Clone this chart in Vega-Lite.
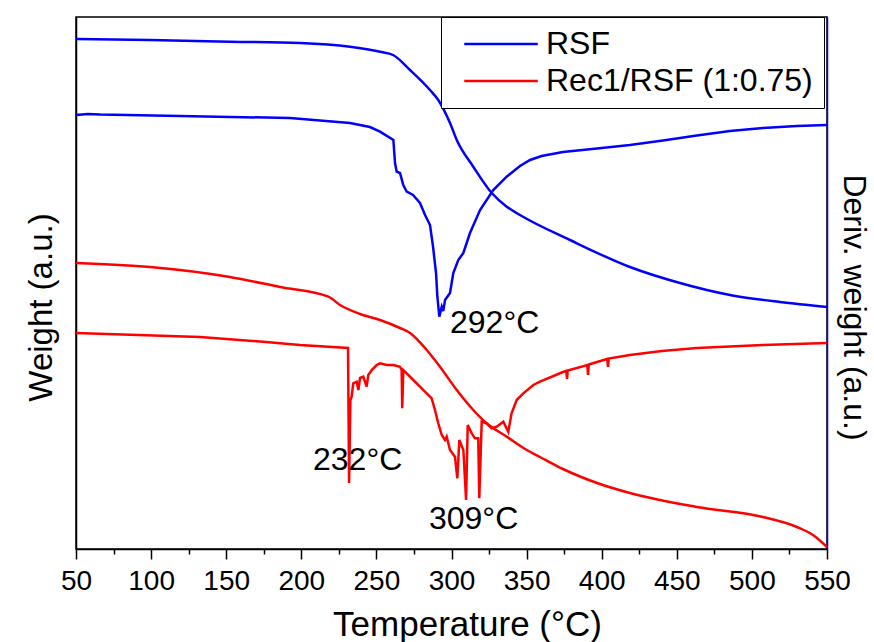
{
  "$schema": "https://vega.github.io/schema/vega-lite/v6.json",
  "width": 751,
  "height": 532,
  "autosize": {"type": "none"},
  "padding": {"left": 76, "top": 17, "right": 47, "bottom": 93},
  "background": "white",
  "config": {"view": {"stroke": "black", "strokeWidth": 1.5}, "font": "Liberation Sans"},
  "resolve": {"axis": {"x": "independent", "y": "independent"}},
  "datasets": {
    "tg": [
      {"sample": "RSF", "curve": "TG", "T": 50, "v": 510},
      {"sample": "RSF", "curve": "TG", "T": 99.3, "v": 509},
      {"sample": "RSF", "curve": "TG", "T": 152.5, "v": 507.3},
      {"sample": "RSF", "curve": "TG", "T": 199.1, "v": 506},
      {"sample": "RSF", "curve": "TG", "T": 232.4, "v": 502.3},
      {"sample": "RSF", "curve": "TG", "T": 252.4, "v": 497.3},
      {"sample": "RSF", "curve": "TG", "T": 261.1, "v": 494},
      {"sample": "RSF", "curve": "TG", "T": 272.4, "v": 479},
      {"sample": "RSF", "curve": "TG", "T": 285.7, "v": 459},
      {"sample": "RSF", "curve": "TG", "T": 291.2, "v": 449},
      {"sample": "RSF", "curve": "TG", "T": 299, "v": 426},
      {"sample": "RSF", "curve": "TG", "T": 303.5, "v": 409},
      {"sample": "RSF", "curve": "TG", "T": 314.5, "v": 382.3},
      {"sample": "RSF", "curve": "TG", "T": 326.8, "v": 356},
      {"sample": "RSF", "curve": "TG", "T": 336.8, "v": 342.3},
      {"sample": "RSF", "curve": "TG", "T": 345.6, "v": 334},
      {"sample": "RSF", "curve": "TG", "T": 378.9, "v": 309},
      {"sample": "RSF", "curve": "TG", "T": 418.8, "v": 282},
      {"sample": "RSF", "curve": "TG", "T": 452.1, "v": 266},
      {"sample": "RSF", "curve": "TG", "T": 485.4, "v": 254},
      {"sample": "RSF", "curve": "TG", "T": 518.7, "v": 247},
      {"sample": "RSF", "curve": "TG", "T": 550, "v": 242},
      {"sample": "Rec1/RSF (1:0.75)", "curve": "TG", "T": 50, "v": 286},
      {"sample": "Rec1/RSF (1:0.75)", "curve": "TG", "T": 99.3, "v": 282},
      {"sample": "Rec1/RSF (1:0.75)", "curve": "TG", "T": 152.5, "v": 272},
      {"sample": "Rec1/RSF (1:0.75)", "curve": "TG", "T": 185.8, "v": 262},
      {"sample": "Rec1/RSF (1:0.75)", "curve": "TG", "T": 218, "v": 252.3},
      {"sample": "Rec1/RSF (1:0.75)", "curve": "TG", "T": 225.8, "v": 244},
      {"sample": "Rec1/RSF (1:0.75)", "curve": "TG", "T": 239.1, "v": 235},
      {"sample": "Rec1/RSF (1:0.75)", "curve": "TG", "T": 252.4, "v": 229},
      {"sample": "Rec1/RSF (1:0.75)", "curve": "TG", "T": 265.7, "v": 221},
      {"sample": "Rec1/RSF (1:0.75)", "curve": "TG", "T": 272.4, "v": 216},
      {"sample": "Rec1/RSF (1:0.75)", "curve": "TG", "T": 283.5, "v": 199},
      {"sample": "Rec1/RSF (1:0.75)", "curve": "TG", "T": 292.3, "v": 182.3},
      {"sample": "Rec1/RSF (1:0.75)", "curve": "TG", "T": 303.5, "v": 159},
      {"sample": "Rec1/RSF (1:0.75)", "curve": "TG", "T": 314.5, "v": 139},
      {"sample": "Rec1/RSF (1:0.75)", "curve": "TG", "T": 323.4, "v": 125.7},
      {"sample": "Rec1/RSF (1:0.75)", "curve": "TG", "T": 336.8, "v": 112.3},
      {"sample": "Rec1/RSF (1:0.75)", "curve": "TG", "T": 350.1, "v": 99},
      {"sample": "Rec1/RSF (1:0.75)", "curve": "TG", "T": 358.9, "v": 92},
      {"sample": "Rec1/RSF (1:0.75)", "curve": "TG", "T": 374.2, "v": 80},
      {"sample": "Rec1/RSF (1:0.75)", "curve": "TG", "T": 396.9, "v": 66},
      {"sample": "Rec1/RSF (1:0.75)", "curve": "TG", "T": 418.8, "v": 56},
      {"sample": "Rec1/RSF (1:0.75)", "curve": "TG", "T": 463.4, "v": 42},
      {"sample": "Rec1/RSF (1:0.75)", "curve": "TG", "T": 507.4, "v": 32},
      {"sample": "Rec1/RSF (1:0.75)", "curve": "TG", "T": 530, "v": 22},
      {"sample": "Rec1/RSF (1:0.75)", "curve": "TG", "T": 540.7, "v": 14},
      {"sample": "Rec1/RSF (1:0.75)", "curve": "TG", "T": 550, "v": 2}
    ],
    "dtg": [
      {"sample": "RSF", "curve": "DTG", "T": 50, "v": 434},
      {"sample": "RSF", "curve": "DTG", "T": 58, "v": 435},
      {"sample": "RSF", "curve": "DTG", "T": 66, "v": 434.5},
      {"sample": "RSF", "curve": "DTG", "T": 119.2, "v": 433},
      {"sample": "RSF", "curve": "DTG", "T": 192.5, "v": 431},
      {"sample": "RSF", "curve": "DTG", "T": 232.4, "v": 426},
      {"sample": "RSF", "curve": "DTG", "T": 245.7, "v": 422},
      {"sample": "RSF", "curve": "DTG", "T": 252.4, "v": 417.3},
      {"sample": "RSF", "curve": "DTG", "T": 261.3, "v": 409},
      {"sample": "RSF", "curve": "DTG", "T": 262.4, "v": 386},
      {"sample": "RSF", "curve": "DTG", "T": 263.5, "v": 377.3},
      {"sample": "RSF", "curve": "DTG", "T": 265.7, "v": 376},
      {"sample": "RSF", "curve": "DTG", "T": 267.9, "v": 364},
      {"sample": "RSF", "curve": "DTG", "T": 270.2, "v": 357.3},
      {"sample": "RSF", "curve": "DTG", "T": 274.4, "v": 354},
      {"sample": "RSF", "curve": "DTG", "T": 279, "v": 346},
      {"sample": "RSF", "curve": "DTG", "T": 282.4, "v": 334},
      {"sample": "RSF", "curve": "DTG", "T": 285.7, "v": 324},
      {"sample": "RSF", "curve": "DTG", "T": 287.7, "v": 302.3},
      {"sample": "RSF", "curve": "DTG", "T": 289.7, "v": 276},
      {"sample": "RSF", "curve": "DTG", "T": 290.6, "v": 252.3},
      {"sample": "RSF", "curve": "DTG", "T": 291.9, "v": 232.3},
      {"sample": "RSF", "curve": "DTG", "T": 293.5, "v": 242.3},
      {"sample": "RSF", "curve": "DTG", "T": 294.5, "v": 238},
      {"sample": "RSF", "curve": "DTG", "T": 295.7, "v": 249},
      {"sample": "RSF", "curve": "DTG", "T": 299, "v": 256},
      {"sample": "RSF", "curve": "DTG", "T": 301.2, "v": 276},
      {"sample": "RSF", "curve": "DTG", "T": 304.5, "v": 289},
      {"sample": "RSF", "curve": "DTG", "T": 307.9, "v": 296},
      {"sample": "RSF", "curve": "DTG", "T": 312.3, "v": 316},
      {"sample": "RSF", "curve": "DTG", "T": 319, "v": 339},
      {"sample": "RSF", "curve": "DTG", "T": 327.8, "v": 359},
      {"sample": "RSF", "curve": "DTG", "T": 336.7, "v": 372.3},
      {"sample": "RSF", "curve": "DTG", "T": 345.6, "v": 383},
      {"sample": "RSF", "curve": "DTG", "T": 352.3, "v": 389},
      {"sample": "RSF", "curve": "DTG", "T": 360, "v": 393},
      {"sample": "RSF", "curve": "DTG", "T": 374.2, "v": 397},
      {"sample": "RSF", "curve": "DTG", "T": 396.9, "v": 400.5},
      {"sample": "RSF", "curve": "DTG", "T": 418.8, "v": 404},
      {"sample": "RSF", "curve": "DTG", "T": 440.8, "v": 408.5},
      {"sample": "RSF", "curve": "DTG", "T": 463.4, "v": 413.5},
      {"sample": "RSF", "curve": "DTG", "T": 485.4, "v": 418},
      {"sample": "RSF", "curve": "DTG", "T": 507.4, "v": 421},
      {"sample": "RSF", "curve": "DTG", "T": 530, "v": 423},
      {"sample": "RSF", "curve": "DTG", "T": 550, "v": 424},
      {"sample": "Rec1/RSF (1:0.75)", "curve": "DTG", "T": 50, "v": 216},
      {"sample": "Rec1/RSF (1:0.75)", "curve": "DTG", "T": 132.6, "v": 212},
      {"sample": "Rec1/RSF (1:0.75)", "curve": "DTG", "T": 176.5, "v": 207},
      {"sample": "Rec1/RSF (1:0.75)", "curve": "DTG", "T": 199.1, "v": 204},
      {"sample": "Rec1/RSF (1:0.75)", "curve": "DTG", "T": 231.1, "v": 201},
      {"sample": "Rec1/RSF (1:0.75)", "curve": "DTG", "T": 231.8, "v": 66},
      {"sample": "Rec1/RSF (1:0.75)", "curve": "DTG", "T": 232.7, "v": 149},
      {"sample": "Rec1/RSF (1:0.75)", "curve": "DTG", "T": 233.5, "v": 152.3},
      {"sample": "Rec1/RSF (1:0.75)", "curve": "DTG", "T": 234.6, "v": 165.7},
      {"sample": "Rec1/RSF (1:0.75)", "curve": "DTG", "T": 236.9, "v": 167.3},
      {"sample": "Rec1/RSF (1:0.75)", "curve": "DTG", "T": 238, "v": 159},
      {"sample": "Rec1/RSF (1:0.75)", "curve": "DTG", "T": 239.1, "v": 171},
      {"sample": "Rec1/RSF (1:0.75)", "curve": "DTG", "T": 241.3, "v": 172.3},
      {"sample": "Rec1/RSF (1:0.75)", "curve": "DTG", "T": 243.5, "v": 162.3},
      {"sample": "Rec1/RSF (1:0.75)", "curve": "DTG", "T": 244.6, "v": 174},
      {"sample": "Rec1/RSF (1:0.75)", "curve": "DTG", "T": 246.9, "v": 179},
      {"sample": "Rec1/RSF (1:0.75)", "curve": "DTG", "T": 250.2, "v": 184},
      {"sample": "Rec1/RSF (1:0.75)", "curve": "DTG", "T": 252.4, "v": 185.7},
      {"sample": "Rec1/RSF (1:0.75)", "curve": "DTG", "T": 256.9, "v": 184},
      {"sample": "Rec1/RSF (1:0.75)", "curve": "DTG", "T": 261.3, "v": 184},
      {"sample": "Rec1/RSF (1:0.75)", "curve": "DTG", "T": 265.7, "v": 182.3},
      {"sample": "Rec1/RSF (1:0.75)", "curve": "DTG", "T": 266.8, "v": 179},
      {"sample": "Rec1/RSF (1:0.75)", "curve": "DTG", "T": 267.2, "v": 140.7},
      {"sample": "Rec1/RSF (1:0.75)", "curve": "DTG", "T": 267.9, "v": 179},
      {"sample": "Rec1/RSF (1:0.75)", "curve": "DTG", "T": 270.2, "v": 175.7},
      {"sample": "Rec1/RSF (1:0.75)", "curve": "DTG", "T": 274.6, "v": 169},
      {"sample": "Rec1/RSF (1:0.75)", "curve": "DTG", "T": 279, "v": 162.3},
      {"sample": "Rec1/RSF (1:0.75)", "curve": "DTG", "T": 283.5, "v": 155.7},
      {"sample": "Rec1/RSF (1:0.75)", "curve": "DTG", "T": 286.8, "v": 150.7},
      {"sample": "Rec1/RSF (1:0.75)", "curve": "DTG", "T": 289, "v": 139},
      {"sample": "Rec1/RSF (1:0.75)", "curve": "DTG", "T": 291.2, "v": 125.7},
      {"sample": "Rec1/RSF (1:0.75)", "curve": "DTG", "T": 293.5, "v": 114},
      {"sample": "Rec1/RSF (1:0.75)", "curve": "DTG", "T": 295.7, "v": 109},
      {"sample": "Rec1/RSF (1:0.75)", "curve": "DTG", "T": 296.8, "v": 112.3},
      {"sample": "Rec1/RSF (1:0.75)", "curve": "DTG", "T": 299, "v": 99},
      {"sample": "Rec1/RSF (1:0.75)", "curve": "DTG", "T": 302.3, "v": 92.3},
      {"sample": "Rec1/RSF (1:0.75)", "curve": "DTG", "T": 303.9, "v": 70.7},
      {"sample": "Rec1/RSF (1:0.75)", "curve": "DTG", "T": 305.2, "v": 109},
      {"sample": "Rec1/RSF (1:0.75)", "curve": "DTG", "T": 307.9, "v": 99},
      {"sample": "Rec1/RSF (1:0.75)", "curve": "DTG", "T": 309.7, "v": 49},
      {"sample": "Rec1/RSF (1:0.75)", "curve": "DTG", "T": 310.8, "v": 124},
      {"sample": "Rec1/RSF (1:0.75)", "curve": "DTG", "T": 313.5, "v": 115.7},
      {"sample": "Rec1/RSF (1:0.75)", "curve": "DTG", "T": 315.6, "v": 110.7},
      {"sample": "Rec1/RSF (1:0.75)", "curve": "DTG", "T": 317.8, "v": 110.7},
      {"sample": "Rec1/RSF (1:0.75)", "curve": "DTG", "T": 318.5, "v": 50.7},
      {"sample": "Rec1/RSF (1:0.75)", "curve": "DTG", "T": 320.1, "v": 127.3},
      {"sample": "Rec1/RSF (1:0.75)", "curve": "DTG", "T": 323.4, "v": 125.7},
      {"sample": "Rec1/RSF (1:0.75)", "curve": "DTG", "T": 326.8, "v": 120.7},
      {"sample": "Rec1/RSF (1:0.75)", "curve": "DTG", "T": 330.1, "v": 122.3},
      {"sample": "Rec1/RSF (1:0.75)", "curve": "DTG", "T": 334.5, "v": 127.3},
      {"sample": "Rec1/RSF (1:0.75)", "curve": "DTG", "T": 337.8, "v": 117.3},
      {"sample": "Rec1/RSF (1:0.75)", "curve": "DTG", "T": 340, "v": 135.7},
      {"sample": "Rec1/RSF (1:0.75)", "curve": "DTG", "T": 343.4, "v": 149},
      {"sample": "Rec1/RSF (1:0.75)", "curve": "DTG", "T": 347.8, "v": 155.7},
      {"sample": "Rec1/RSF (1:0.75)", "curve": "DTG", "T": 354.5, "v": 164},
      {"sample": "Rec1/RSF (1:0.75)", "curve": "DTG", "T": 358.9, "v": 167.3},
      {"sample": "Rec1/RSF (1:0.75)", "curve": "DTG", "T": 374.2, "v": 177},
      {"sample": "Rec1/RSF (1:0.75)", "curve": "DTG", "T": 376.4, "v": 178},
      {"sample": "Rec1/RSF (1:0.75)", "curve": "DTG", "T": 376.9, "v": 170},
      {"sample": "Rec1/RSF (1:0.75)", "curve": "DTG", "T": 377.4, "v": 178.5},
      {"sample": "Rec1/RSF (1:0.75)", "curve": "DTG", "T": 390.4, "v": 184},
      {"sample": "Rec1/RSF (1:0.75)", "curve": "DTG", "T": 390.9, "v": 174},
      {"sample": "Rec1/RSF (1:0.75)", "curve": "DTG", "T": 391.4, "v": 184.5},
      {"sample": "Rec1/RSF (1:0.75)", "curve": "DTG", "T": 396.9, "v": 187},
      {"sample": "Rec1/RSF (1:0.75)", "curve": "DTG", "T": 403.7, "v": 190},
      {"sample": "Rec1/RSF (1:0.75)", "curve": "DTG", "T": 404.2, "v": 182},
      {"sample": "Rec1/RSF (1:0.75)", "curve": "DTG", "T": 404.7, "v": 190.5},
      {"sample": "Rec1/RSF (1:0.75)", "curve": "DTG", "T": 418.8, "v": 194},
      {"sample": "Rec1/RSF (1:0.75)", "curve": "DTG", "T": 440, "v": 198},
      {"sample": "Rec1/RSF (1:0.75)", "curve": "DTG", "T": 463.4, "v": 201},
      {"sample": "Rec1/RSF (1:0.75)", "curve": "DTG", "T": 507.4, "v": 204},
      {"sample": "Rec1/RSF (1:0.75)", "curve": "DTG", "T": 550, "v": 206}
    ],
    "notes": [
      {"T": 299, "v": 216, "label": "292°C"},
      {"T": 207.8, "v": 79, "label": "232°C"},
      {"T": 285, "v": 20, "label": "309°C"}
    ]
  },
  "layer": [
    {
      "data": {"name": "tg"},
      "mark": {"type": "line", "strokeWidth": 2.5, "interpolate": "monotone"},
      "encoding": {
        "x": {"field": "T", "type": "quantitative",
          "scale": {"domain": [50, 550], "nice": false, "zero": false},
          "axis": {"orient": "bottom", "values": [50, 100, 150, 200, 250, 300, 350, 400, 450, 500, 550],
            "tickSize": 10, "tickWidth": 1.5, "tickColor": "black", "domainColor": "black", "domainWidth": 1.5,
            "labelFontSize": 28, "labelColor": "black", "labelPadding": 8, "labelFont": "Liberation Sans",
            "labelFlush": false, "labelOverlap": false, "grid": false,
            "title": "Temperature (°C)", "titleFontSize": 35, "titleFontWeight": "normal", "titleColor": "black",
            "titleFont": "Liberation Sans", "titlePadding": 12, "titleX": 391}},
        "y": {"field": "v", "type": "quantitative",
          "scale": {"domain": [0, 532], "nice": false, "zero": false},
          "axis": {"orient": "left", "domainColor": "black", "domainWidth": 1.5, "ticks": false, "tickSize": 0,
            "labels": false, "grid": false, "title": "Weight (a.u.)", "titleFontSize": 33, "titleFontWeight": "normal",
            "titleColor": "black", "titleFont": "Liberation Sans", "titlePadding": 18, "titleY": 290}},
        "color": {"field": "sample", "type": "nominal",
          "scale": {"domain": ["RSF", "Rec1/RSF (1:0.75)"], "range": ["#0000ff", "#ff0000"]},
          "legend": {"orient": "none", "legendX": 365, "legendY": 0, "title": null,
            "symbolType": "M-3.5,0H3.5", "symbolSize": 441, "symbolStrokeWidth": 2.5, "symbolOffset": 33,
            "labelFontSize": 32, "labelFont": "Liberation Sans", "labelLimit": 500,
            "labelColor": "black", "strokeColor": "black", "fillColor": "white", "padding": 11, "rowPadding": 5,
            "labelOffset": 29}},
        "detail": {"field": "curve"}
      }
    },
    {
      "data": {"name": "dtg"},
      "mark": {"type": "line", "strokeWidth": 2.5, "interpolate": "linear"},
      "encoding": {
        "x": {"field": "T", "type": "quantitative", "axis": null},
        "y": {"field": "v", "type": "quantitative", "axis": null},
        "color": {"field": "sample", "type": "nominal"},
        "detail": {"field": "curve"}
      }
    },
    {
      "data": {"name": "notes"},
      "mark": {"type": "text", "align": "left", "baseline": "alphabetic", "fontSize": 32, "font": "Liberation Sans", "color": "black"},
      "encoding": {
        "x": {"field": "T", "type": "quantitative",
          "axis": {"orient": "bottom", "values": [75, 125, 175, 225, 275, 325, 375, 425, 475, 525],
            "tickSize": 5, "tickWidth": 1.5, "tickColor": "black", "labels": false, "domain": false, "grid": false, "title": null}},
        "y": {"field": "v", "type": "quantitative",
          "axis": {"orient": "right", "domainColor": "#0000ff", "domainWidth": 1.5, "ticks": false, "tickSize": 0,
            "labels": false, "grid": false, "title": "Deriv. weight (a.u.)", "titleFontSize": 32, "titleFontWeight": "normal",
            "titleColor": "black", "titleFont": "Liberation Sans", "titlePadding": 9, "titleY": 290}},
        "text": {"field": "label"}
      }
    }
  ]
}
